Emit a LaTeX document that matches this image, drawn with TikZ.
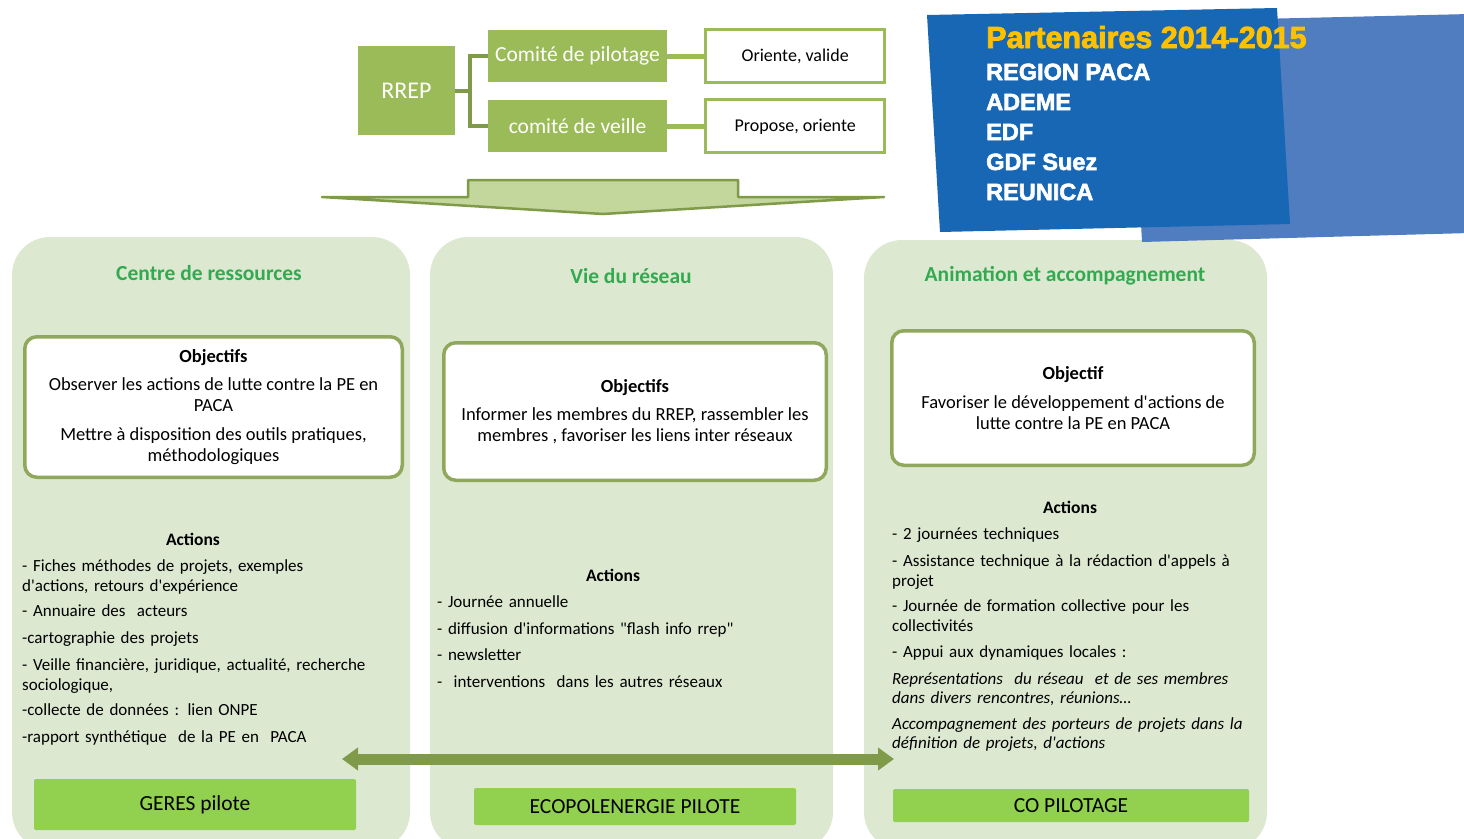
\documentclass[tikz,border=0pt]{standalone}
\usepackage{fontspec}
\setmainfont{Carlito}
\newfontfamily\partnerfont[FakeBold=2.5]{Liberation Sans}
\usepackage{tikz}
\usetikzlibrary{arrows.meta, positioning}

\definecolor{olivebox}{RGB}{155,187,89}
\definecolor{olivedark}{RGB}{127,154,72}
\definecolor{oliveline}{RGB}{143,168,92}
\definecolor{arrowfill}{RGB}{195,214,155}
\definecolor{colbg}{RGB}{221,232,209}
\definecolor{titlegreen}{RGB}{50,170,80}
\definecolor{pilotgreen}{RGB}{146,208,80}
\definecolor{partnerblue}{RGB}{24,103,180}
\definecolor{backblue}{RGB}{80,124,192}
\definecolor{partnergold}{RGB}{255,192,0}

\newcommand{\sq}{\textquotesingle}

\begin{document}
\begin{tikzpicture}[x=1pt, y=-1pt,
	greenbox/.style={fill=olivebox, text=white, inner sep=0pt, minimum width=179pt, minimum height=52pt, font=\fontsize{21.5}{26}\selectfont},
	rolebox/.style={draw=olivebox, line width=3pt, fill=white, minimum width=179pt, minimum height=53pt, inner sep=0pt, font=\fontsize{18}{21}\selectfont},
	column/.style={fill=colbg, rounded corners=38pt},
	coltitle/.style={text=titlegreen, inner sep=0pt, font=\fontsize{21.5}{26}\selectfont\bfseries},
	objbox/.style={draw=oliveline, line width=3.5pt, fill=white, rounded corners=12pt, align=center, inner sep=0pt, font=\fontsize{18.5}{21}\selectfont},
	acthead/.style={inner sep=0pt, font=\fontsize{17.5}{20}\selectfont\bfseries},
	actlist/.style={anchor=base west, align=left, text width=400pt, inner sep=0pt, font=\fontsize{17}{20}\selectfont},
	pilotbox/.style={fill=pilotgreen, rounded corners=2pt, inner sep=0pt, font=\fontsize{21.5}{24}\selectfont},
	partner/.style={anchor=base west, inner sep=0pt, text=white, font=\partnerfont\fontsize{23.5}{26}\selectfont\bfseries}
	]
	\useasboundingbox (0,0) rectangle (1464,838);
	\clip (0,0) rectangle (1464,838);
	
	\node[greenbox, minimum width=97pt, minimum height=89pt, font=\fontsize{24}{28}\selectfont] (rrep) at (406.5,90.5) {RREP};
	\node[greenbox] (pilot) at (577.5,56) {Comité de pilotage};
	\node[greenbox, below=18pt of pilot] (veille) {comité de veille};
	\node[rolebox, right=37pt of pilot] (oriente) {Oriente, valide};
	\node[rolebox, right=37pt of veille] (propose) {Propose, oriente};
	\draw[olivedark, line width=4pt] (rrep.east) -- ++(15,0) coordinate (fork) |- (pilot.west);
	\draw[olivedark, line width=4pt] (fork) |- (veille.west);
	\draw[olivebox, line width=5pt] (pilot.east) -- (oriente.west);
	\draw[olivebox, line width=5pt] (veille.east) -- (propose.west);
	
	\draw[olivedark, line width=2.5pt, fill=arrowfill, line join=round] (322,197) -- (468,197) -- (468,180) -- (738,180) -- (738,197) -- (884,197) -- (603,214) -- cycle;
	
	\fill[column] (12,237) rectangle (410,850);
	\fill[column] (430,237) rectangle (833,850);
	\fill[column] (864,240) rectangle (1267,850);
	
	\fill[backblue] (1130,22) -- (1470,14) -- (1470,233) -- (1142,242) -- cycle;
	\fill[partnerblue] (927,15) -- (1277,8) -- (1290,224) -- (940,232) -- cycle;
	\node[anchor=base west, inner sep=0pt, text=partnergold, font=\partnerfont\fontsize{30.5}{34}\selectfont\bfseries] (ptitle) at (986,48) {Partenaires 2014-2015};
	\node[partner] (region) at (986,80) {REGION PACA};
	\node[partner] (ademe) at (986,110) {ADEME};
	\node[partner] (edf) at (986,140) {EDF};
	\node[partner] (gdf) at (986,170) {GDF Suez};
	\node[partner] (reunica) at (986,200) {REUNICA};
	
	\node[coltitle] (title1) at (209,273) {Centre de ressources};
	\node[coltitle] (title2) at (631,276) {Vie du réseau};
	\node[coltitle] (title3) at (1065,276) {Animation et accompagnement};
	
	\node[objbox, minimum width=377.5pt, minimum height=140.5pt] (obj1) at (213.5,407) {\textbf{Objectifs}\\[7pt]Observer les actions de lutte contre la PE en\\PACA\\[8pt]Mettre à disposition des outils pratiques,\\méthodologiques};
	\node[objbox, minimum width=382.5pt, minimum height=137.5pt] (obj2) at (635,411.5) {\textbf{Objectifs}\\[7pt]Informer les membres du RREP, rassembler les\\membres , favoriser les liens inter réseaux};
	\node[objbox, minimum width=362.5pt, minimum height=134.5pt] (obj3) at (1073,398) {\textbf{Objectif}\\[8pt]Favoriser le développement d\sq actions de\\lutte contre la PE en PACA};
	
	\node[acthead] (act1) at (193,539) {Actions};
	\node[actlist] (list1) at (22,571) {- Fiches méthodes de projets, exemples\\d\sq actions, retours d\sq expérience\\[5pt]- Annuaire des\ \ acteurs\\[7pt]-cartographie des projets\\[7pt]- Veille financière, juridique, actualité, recherche\\sociologique,\\[5pt]-collecte de données : lien ONPE\\[7pt]-rapport synthétique\ \ de la PE en\ \ PACA};
	\node[acthead] (act2) at (613,575) {Actions};
	\node[actlist] (list2) at (437,607) {- Journée annuelle\\[7pt]- diffusion d\sq informations \textquotedbl flash info rrep\textquotedbl\\[6pt]- newsletter\\[7pt]-\ \ interventions\ \ dans les autres réseaux};
	\node[acthead] (act3) at (1070,507) {Actions};
	\node[actlist] (list3) at (892,539) {- 2 journées techniques\\[7pt]- Assistance technique à la rédaction d\sq appels à\\projet\\[5pt]- Journée de formation collective pour les\\collectivités\\[6pt]- Appui aux dynamiques locales :\\[7pt]\textit{Représentations\ \ du réseau\ \ et de ses membres}\\[-1pt]\textit{dans divers rencontres, réunions…}\\[6pt]\textit{Accompagnement des porteurs de projets dans la}\\[-1pt]\textit{définition de projets, d\sq actions}};
	
	\coordinate (aleft) at (342,759);
	\coordinate (aright) at (894,759);
	\draw[olivedark, line width=11pt, {Triangle[length=16pt,width=22pt]}-{Triangle[length=16pt,width=22pt]}] (aleft) -- (aright);
	
	\node[pilotbox, minimum width=322pt, minimum height=51pt] (geres) at (195,804.5) {GERES pilote};
	\node[pilotbox, minimum width=322pt, minimum height=37pt] (ecopole) at (635,806.5) {ECOPOLENERGIE PILOTE};
	\node[pilotbox, minimum width=356pt, minimum height=33pt] (copilot) at (1071,805.5) {CO PILOTAGE};
\end{tikzpicture}
\end{document}
